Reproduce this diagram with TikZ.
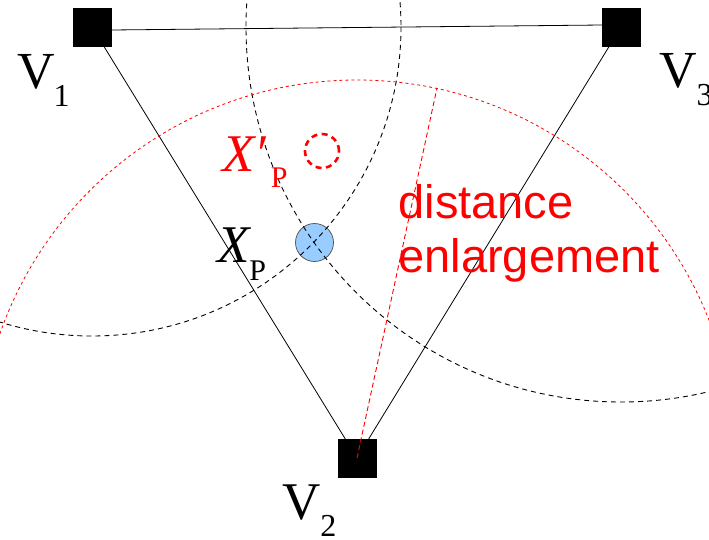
\documentclass[tikz,border=0pt]{standalone}
\usepackage{fontspec}
\setmainfont{Liberation Serif}
\newfontfamily\labelsans{Liberation Sans}
\definecolor{xpblue}{RGB}{153,204,255}

\begin{document}
\begin{tikzpicture}[x=1pt,y=-1pt,
    vertex/.style={fill=black,draw=black,minimum size=38pt,inner sep=0pt,outer sep=0pt},
    lbl/.style={anchor=base west,inner sep=0pt,outer sep=0pt},
    rangecirc/.style={black,line width=0.9pt,dash pattern=on 5pt off 4pt},
    bigrangecirc/.style={red,line width=0.8pt,dash pattern=on 3pt off 3pt}]
  \useasboundingbox (0,0) rectangle (709,539);

  \node[vertex] (V1) at (92,27) {};
  \node[vertex] (V2) at (357,458) {};
  \node[vertex] (V3) at (621,27) {};
  \node[circle,fill=xpblue,draw=black!70,line width=0.7pt,minimum size=38pt,inner sep=0pt] (xp) at (314.5,242.5) {};
  \node[circle,draw=red,line width=2.6pt,dash pattern=on 6pt off 4.5pt,minimum size=34pt,inner sep=0pt] (xpp) at (322,151) {};

  \draw[line width=0.8pt] ([yshift=-3pt]V1.east) -- ([yshift=2pt]V3.west);
  \draw[line width=0.8pt] (V1) -- (V2);
  \draw[line width=0.8pt] (V3) -- (V2);

  \begin{scope}
    \clip (0,0) rectangle (709,539);
    \draw[rangecirc] (V1.center) circle[radius=309];
    \draw[rangecirc] (V3.center) circle[radius=375];
    \draw[bigrangecirc] (V2.center) circle[radius=378];
  \end{scope}
  \draw[red,line width=0.9pt,dash pattern=on 5pt off 3pt] (V2.center) -- ++(-77.8:378) coordinate (rim);

  \node[lbl] (V1lbl) at (17,88) {\fontsize{52}{52}\selectfont V\kern-1pt\raisebox{-18pt}{\fontsize{32}{32}\selectfont 1}};
  \node[lbl] (V2lbl) at (282,519) {\fontsize{53}{53}\selectfont V\raisebox{-17pt}{\fontsize{32}{32}\selectfont 2}};
  \node[lbl] (V3lbl) at (659,87) {\fontsize{52}{52}\selectfont V\raisebox{-18pt}{\fontsize{32}{32}\selectfont 3}};
  \node[lbl] (xplbl) at (217,262) {\fontsize{53}{53}\selectfont\itshape X\upshape\raisebox{-18pt}{\fontsize{30}{30}\selectfont P}};
  \node[lbl,text=red] (xpplbl) at (222,171) {\fontsize{53}{53}\selectfont\itshape X′\upshape\kern5pt\raisebox{-16pt}{\fontsize{30}{30}\selectfont P}};
  \node[lbl,align=left,text=red,font=\labelsans\fontsize{47}{54}\selectfont] (enl) at (398.5,272) {distance\\enlargement};
\end{tikzpicture}
\end{document}
